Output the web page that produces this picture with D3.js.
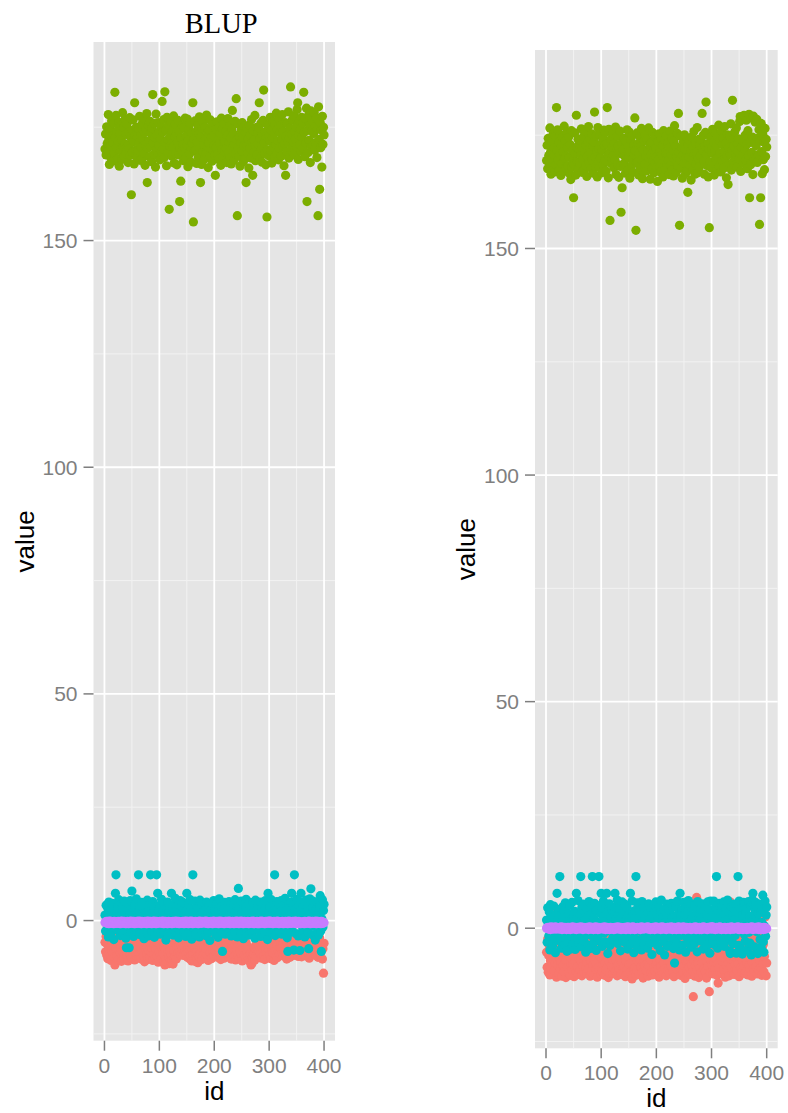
<!DOCTYPE html>
<html>
<head>
<meta charset="utf-8">
<script src="https://cdn.jsdelivr.net/npm/d3@7"></script>
<style>
  body { margin: 0; background: #fff; }
  svg { display: block; }
</style>
</head>
<body>
<svg id="chart" width="788" height="1113"></svg>
<script>
// axis ticks
const xTicks = [0, 100, 200, 300, 400];
const xMinor = [50, 150, 250, 350];
const yTicks = [0, 50, 100, 150];
const yMinor = [-25, 25, 75, 125, 175];

// id 1..400, one value per id in every series below
const ids = d3.range(1, 401);

// ---- left panel (BLUP) ----
const leftRed = [
  -4.8,-6.9,-3.5,-7.6,-5.2,-8.4,-4.1,-6.3,-7.9,-3.8,-5.9,-8.8,-4.5,-6.7,-3.2,-7.3,-5.5,-8.1,-9.8,-4.3,
  -6.1,-3.9,-7.8,-5.0,-8.6,-4.4,-6.5,-3.3,-7.1,-5.7,-9.0,-4.0,-6.8,-3.6,-8.3,-5.3,-7.4,-4.7,-6.0,-3.4,
  -7.7,-5.1,-8.9,-4.2,-6.4,-3.7,-7.5,-5.8,-8.2,-4.6,-6.6,-3.1,-7.0,-5.4,-8.7,-4.9,-6.2,-3.5,-7.9,-5.6,
  -4.4,-8.0,-6.0,-3.8,-7.2,-5.0,-8.5,-4.1,-6.8,-3.4,-7.7,-5.5,-9.1,-4.8,-6.3,-3.0,-7.4,-5.9,-8.6,-4.5,
  -6.7,-3.6,-8.1,-5.2,-7.0,-4.3,-6.1,-8.8,-3.9,-7.5,-5.6,-4.0,-8.4,-6.4,-3.3,-7.8,-5.0,-9.2,-4.7,-6.9,
  -5.3,-7.6,-4.2,-8.3,-6.2,-3.7,-7.3,-5.7,-8.9,-9.8,-6.5,-8.6,-4.9,-9.3,-7.1,-5.4,-8.0,-9.5,-6.8,-8.7,
  -9.2,-7.4,-8.8,-5.9,-9.6,-6.6,-8.2,-4.6,-7.9,-5.1,-8.5,-6.0,-4.4,-7.2,-5.8,-3.9,-6.9,-4.8,-7.6,-5.5,
  -3.6,-6.3,-4.9,-7.7,-5.6,-3.2,-6.8,-4.5,-7.3,-5.0,-8.1,-6.1,-7.0,-5.3,-8.4,-6.6,-7.8,-4.7,-8.9,-6.4,
  -7.5,-5.9,-8.7,-6.2,-9.0,-7.1,-5.4,-8.3,-6.8,-9.3,-7.7,-4.8,-8.0,-6.5,-7.2,-5.1,-8.6,-6.0,-7.9,-4.3,
  -5.7,-7.3,-4.6,-8.2,-6.3,-3.8,-7.6,-5.2,-8.8,-4.9,-6.7,-3.5,-7.0,-5.5,-8.4,-4.1,-6.6,-3.3,-7.8,-5.0,
  -4.0,-6.9,-3.4,-7.4,-5.8,-8.1,-4.4,-6.2,-3.7,-7.1,-5.3,-8.6,-4.7,-6.4,-3.1,-7.7,-5.6,-8.3,-4.2,-6.0,
  -7.2,-4.5,-6.6,-3.9,-8.0,-5.1,-7.5,-4.3,-6.8,-3.6,-8.5,-5.7,-7.0,-4.8,-6.1,-3.4,-7.9,-5.4,-8.7,-4.6,
  -6.3,-3.8,-7.8,-5.0,-8.4,-4.1,-6.7,-3.2,-7.3,-5.5,-8.9,-4.4,-6.0,-3.6,-7.6,-5.2,-8.2,-4.9,-6.5,-7.1,
  -8.0,-5.8,-8.8,-6.4,-9.1,-7.3,-9.8,-8.5,-9.4,-6.9,-8.1,-7.5,-5.9,-8.7,-6.2,-7.8,-4.7,-6.6,-5.1,-7.0,
  -4.3,-6.8,-3.7,-7.4,-5.3,-8.3,-4.6,-6.1,-3.5,-7.7,-5.7,-8.6,-4.0,-6.5,-3.3,-7.2,-5.0,-8.0,-4.8,-6.3,
  -7.6,-5.2,-8.4,-4.5,-6.9,-3.8,-7.1,-5.6,-8.8,-4.2,-6.4,-3.4,-7.9,-5.4,-8.2,-4.7,-6.7,-3.9,-7.3,-5.9,
  -4.6,-6.2,-3.6,-7.0,-5.1,-7.8,-4.1,-6.6,-3.2,-7.5,-5.5,-8.5,-4.4,-6.0,-3.8,-7.3,-5.8,-8.1,-4.9,-6.8,
  -7.4,-5.0,-6.3,-4.3,-7.7,-5.6,-6.9,-3.7,-7.2,-5.3,-6.5,-4.0,-7.9,-5.9,-6.7,-4.6,-7.0,-5.2,-8.0,-4.8,
  -6.1,-3.5,-7.5,-5.4,-6.6,-4.2,-7.8,-5.7,-6.4,-3.9,-7.1,-5.0,-8.3,-4.5,-6.8,-5.5,-7.6,-4.1,-6.2,-5.8,
  -7.3,-4.7,-6.0,-3.6,-7.7,-5.1,-6.9,-4.4,-8.1,-5.6,-6.5,-3.8,-7.4,-5.3,-6.7,-4.9,-8.5,-6.2,-11.6,-5.0
];
const leftGreen = [
  170.2,173.5,168.9,175.1,171.4,169.7,177.8,172.3,166.8,174.6,170.9,168.2,176.4,173.0,171.7,167.5,175.9,169.3,182.7,172.8,
  177.6,170.5,174.2,168.0,171.9,176.1,166.4,173.7,169.8,175.4,172.1,167.9,178.2,170.7,174.9,168.6,171.3,176.8,173.4,169.1,
  175.7,171.0,167.2,173.9,170.3,177.1,168.8,172.6,160.1,174.3,169.5,176.6,171.8,166.9,180.4,173.2,170.0,175.0,168.4,172.9,
  169.9,174.8,171.5,177.4,167.7,173.1,170.6,175.6,168.1,172.4,176.9,169.2,173.8,166.6,171.2,174.5,178.0,162.8,170.4,175.3,
  172.0,168.5,176.3,170.8,173.6,167.4,174.7,182.2,171.6,169.0,175.8,172.7,166.2,177.9,170.1,173.3,168.7,176.0,171.1,174.0,
  167.8,172.5,175.2,169.6,180.7,173.9,170.2,176.7,168.3,182.8,171.7,174.4,166.5,177.2,172.2,169.4,175.5,156.9,170.9,173.0,
  176.2,171.4,168.6,174.1,170.7,177.5,167.1,172.8,175.7,169.3,173.5,166.7,171.9,176.5,168.9,174.2,158.6,170.3,163.1,172.6,
  169.7,175.3,171.2,167.6,174.9,170.5,177.0,168.2,173.2,171.0,176.8,166.3,172.1,174.6,169.1,175.9,170.6,167.3,173.7,171.5,
  180.4,154.1,172.4,169.8,176.4,170.0,174.0,167.0,171.8,175.4,168.4,173.4,177.3,170.4,162.8,172.9,166.8,174.7,169.5,176.1,
  171.3,168.0,175.0,172.5,169.2,177.7,170.8,173.8,166.1,171.6,174.3,168.7,176.6,170.2,172.7,167.5,175.6,169.9,173.1,171.0,
  168.8,164.4,174.5,170.6,176.2,169.0,172.3,167.9,175.1,171.4,173.6,166.6,177.0,170.1,174.8,168.5,172.0,175.8,169.6,171.9,
  174.1,170.3,167.2,173.2,176.9,169.4,171.7,175.3,168.3,172.6,166.9,174.6,178.7,170.7,173.5,167.7,171.2,176.3,169.1,181.3,
  172.2,155.5,170.5,175.7,168.6,173.0,166.4,171.5,174.4,169.7,176.0,172.8,167.4,170.9,175.2,168.1,173.9,162.8,171.1,174.7,
  169.3,172.4,166.0,175.5,170.4,173.3,168.2,176.7,171.8,164.4,174.2,169.5,172.1,177.6,167.6,170.8,175.0,168.9,173.7,171.3,
  174.9,180.4,168.0,172.5,175.9,170.2,167.3,173.4,176.5,183.2,171.6,169.2,174.0,166.7,172.9,155.2,170.0,175.4,168.7,173.1,
  171.9,177.2,169.8,174.3,167.1,172.7,176.2,170.6,173.6,168.4,175.6,171.0,178.1,169.0,174.5,172.0,167.8,176.8,170.3,173.8,
  175.3,168.6,172.2,177.8,170.9,174.1,166.5,171.4,176.0,164.4,173.0,169.6,175.8,171.7,178.4,168.2,172.6,174.8,183.9,170.1,
  173.5,176.6,169.3,171.8,177.5,168.9,174.0,172.4,175.1,170.7,178.9,180.4,167.9,173.2,176.4,171.1,174.6,169.7,177.2,172.8,
  175.9,170.4,182.7,173.9,168.5,176.9,171.5,179.2,158.6,174.3,169.4,177.7,172.1,175.5,167.2,178.6,170.8,174.2,176.3,171.0,
  173.6,178.3,169.9,175.2,171.6,177.1,168.3,174.7,155.5,179.5,172.3,161.3,176.1,170.5,174.4,166.2,177.4,171.2,175.0,173.3
];
const leftCyan = [
  1.2,-2.3,3.4,0.5,-1.1,2.7,-3.6,4.1,0.0,-0.8,2.1,-2.9,1.7,3.8,-1.6,0.9,-4.2,2.4,-0.4,6.0,
  10.1,1.5,-2.0,3.1,0.3,4.6,-1.4,2.2,-3.3,1.0,3.6,-0.7,2.9,-2.6,0.7,4.3,-1.9,1.9,-3.9,-6.0,
  2.5,-0.2,3.9,-1.3,-6.0,1.4,4.4,-2.7,0.6,6.5,-0.9,2.8,-3.5,1.1,3.3,-1.8,0.2,4.8,-2.4,1.6,
  -0.6,10.1,2.0,-3.1,3.5,0.8,-1.5,4.0,-2.2,1.3,2.6,-4.0,0.4,3.2,-1.0,1.8,-2.8,4.5,0.1,-3.4,
  2.3,-1.2,3.7,10.1,0.9,-2.5,1.6,4.2,-0.3,2.9,-3.7,1.1,3.0,-1.7,10.1,0.5,6.0,-2.1,2.4,-0.5,
  3.4,-3.0,1.2,4.7,-0.8,2.0,-2.3,0.7,3.9,-1.4,1.5,-4.3,2.7,0.0,4.1,-2.9,1.9,-0.6,3.1,-1.9,
  0.8,6.0,-1.0,2.6,-3.2,1.4,3.6,-0.4,4.9,-2.6,0.3,2.2,-1.6,3.3,-3.8,1.7,0.5,4.4,-2.0,1.0,
  -0.9,2.9,4.0,-2.4,1.3,-0.1,3.5,-3.5,2.1,6.0,-1.3,0.6,3.8,-2.7,1.8,4.6,-0.7,2.5,-4.1,0.4,
  10.1,-1.8,2.3,0.9,4.3,-3.1,1.6,-0.5,3.0,-2.2,2.8,0.1,-3.6,4.5,1.2,-1.2,3.4,-2.8,0.7,2.0,
  -1.5,3.7,0.2,-3.3,2.6,4.1,-0.9,1.5,-2.5,3.2,0.6,-4.4,2.2,1.0,-1.1,3.9,-2.0,0.8,4.4,-0.3,
  2.4,-2.9,1.1,3.6,-0.6,0.4,-3.7,2.7,4.8,-1.6,1.8,-0.2,3.1,-2.3,-6.8,0.9,2.5,-1.0,4.0,-3.0,
  1.3,3.3,-1.4,0.0,2.9,-2.7,4.2,1.6,-0.8,3.5,-3.4,2.0,0.5,-1.9,3.8,1.1,-2.4,4.6,0.3,-0.9,
  2.6,-3.6,1.9,7.1,-1.2,3.0,0.7,-2.8,4.3,1.4,-0.4,2.3,-4.0,3.4,0.1,-1.7,2.8,4.7,-2.1,1.0,
  -0.5,3.6,-3.2,1.7,4.0,-1.3,2.1,0.6,-2.6,3.9,1.2,-0.1,2.7,-3.9,4.5,0.9,-1.8,2.4,-0.7,3.2,
  1.5,-2.2,4.1,0.2,-3.5,2.9,1.0,-1.1,3.7,-0.3,2.2,-2.9,4.4,0.8,-1.5,3.1,-4.2,6.0,1.8,-0.6,
  3.0,-1.9,0.5,4.6,-2.7,1.3,3.5,-0.8,2.4,10.1,-3.3,1.9,0.1,4.2,-1.4,2.6,-2.4,3.8,0.7,-0.2,
  2.0,4.4,-3.0,1.1,-0.9,3.3,0.4,-2.0,4.9,1.6,-1.6,2.8,-3.8,-6.8,0.6,3.6,-0.5,2.1,-2.6,4.0,
  6.0,1.4,-1.2,3.9,-6.5,10.1,0.3,2.5,-2.9,4.7,-0.4,1.7,-3.4,3.2,0.9,-6.6,2.2,6.0,-1.0,4.1,
  -2.2,2.7,0.0,3.4,-3.6,1.5,4.5,-0.7,2.0,-2.5,3.7,-6.2,1.2,4.8,-1.3,7.0,0.8,-3.1,2.9,4.3,
  1.9,-0.6,3.5,-4.3,2.4,0.6,4.0,-1.9,2.8,-3.2,1.0,3.1,5.5,-2.3,-6.8,0.4,4.6,-1.4,2.2,3.6
];
const leftPurple = [
  -0.4,-0.3,-0.5,-0.2,-0.6,-0.4,-0.3,-0.7,-0.1,-0.5,-0.4,-0.2,-0.6,-0.3,-0.5,-0.4,-0.7,-0.2,-0.4,-0.6,
  -0.3,-0.5,-0.4,-0.6,-0.2,-0.4,-0.5,-0.3,-0.7,-0.4,-0.1,-0.5,-0.3,-0.6,-0.4,-0.2,-0.5,-0.4,-0.7,-0.3,
  -0.5,-0.2,-0.4,-0.7,-0.3,-0.6,-0.4,-0.1,-0.5,-0.3,-0.6,-0.4,-0.2,-0.5,-0.7,-0.4,-0.3,-0.6,-0.2,-0.4,
  -0.6,-0.4,-0.1,-0.5,-0.3,-0.4,-0.7,-0.2,-0.5,-0.4,-0.3,-0.6,-0.4,-0.2,-0.5,-0.3,-0.7,-0.4,-0.1,-0.5,
  -0.3,-0.6,-0.4,-0.2,-0.5,-0.7,-0.3,-0.4,-0.6,-0.1,-0.4,-0.5,-0.3,-0.7,-0.2,-0.4,-0.6,-0.3,-0.5,-0.4,
  -0.2,-0.4,-0.6,-0.3,-0.5,-0.1,-0.4,-0.7,-0.3,-0.5,-0.2,-0.6,-0.4,-0.3,-0.7,-0.5,-0.2,-0.4,-0.6,-0.3,
  -0.5,-0.3,-0.7,-0.4,-0.2,-0.6,-0.5,-0.3,-0.4,-0.1,-0.6,-0.3,-0.5,-0.4,-0.2,-0.7,-0.4,-0.5,-0.3,-0.6,
  -0.4,-0.6,-0.2,-0.5,-0.7,-0.3,-0.4,-0.1,-0.6,-0.4,-0.5,-0.2,-0.7,-0.4,-0.3,-0.5,-0.1,-0.6,-0.4,-0.2,
  -0.7,-0.4,-0.3,-0.6,-0.4,-0.2,-0.5,-0.4,-0.3,-0.6,-0.7,-0.4,-0.1,-0.5,-0.3,-0.4,-0.6,-0.2,-0.5,-0.4,
  -0.3,-0.5,-0.4,-0.1,-0.6,-0.4,-0.2,-0.5,-0.7,-0.3,-0.4,-0.6,-0.5,-0.2,-0.4,-0.3,-0.7,-0.5,-0.1,-0.4,
  -0.5,-0.4,-0.6,-0.3,-0.2,-0.5,-0.4,-0.7,-0.3,-0.1,-0.4,-0.6,-0.5,-0.2,-0.4,-0.3,-0.6,-0.7,-0.4,-0.2,
  -0.4,-0.2,-0.5,-0.6,-0.3,-0.4,-0.1,-0.5,-0.7,-0.4,-0.3,-0.6,-0.2,-0.4,-0.5,-0.7,-0.3,-0.4,-0.6,-0.1,
  -0.6,-0.3,-0.4,-0.2,-0.7,-0.5,-0.4,-0.3,-0.1,-0.6,-0.5,-0.4,-0.7,-0.3,-0.2,-0.4,-0.5,-0.6,-0.3,-0.4,
  -0.2,-0.5,-0.7,-0.4,-0.3,-0.6,-0.2,-0.4,-0.5,-0.3,-0.1,-0.7,-0.4,-0.6,-0.3,-0.5,-0.4,-0.2,-0.7,-0.5,
  -0.4,-0.7,-0.3,-0.5,-0.1,-0.4,-0.6,-0.2,-0.4,-0.5,-0.3,-0.7,-0.4,-0.2,-0.6,-0.4,-0.3,-0.5,-0.1,-0.6,
  -0.5,-0.1,-0.4,-0.6,-0.4,-0.3,-0.7,-0.5,-0.2,-0.4,-0.6,-0.3,-0.5,-0.4,-0.1,-0.6,-0.4,-0.7,-0.3,-0.5,
  -0.3,-0.6,-0.5,-0.2,-0.4,-0.7,-0.3,-0.4,-0.6,-0.2,-0.5,-0.4,-0.3,-0.7,-0.4,-0.1,-0.5,-0.3,-0.6,-0.4,
  -0.6,-0.4,-0.2,-0.5,-0.3,-0.4,-0.6,-0.1,-0.5,-0.7,-0.4,-0.3,-0.5,-0.2,-0.6,-0.4,-0.7,-0.3,-0.4,-0.5,
  -0.4,-0.3,-0.6,-0.7,-0.2,-0.5,-0.4,-0.3,-0.6,-0.4,-0.2,-0.5,-0.1,-0.4,-0.7,-0.3,-0.5,-0.6,-0.2,-0.4,
  -0.5,-0.6,-0.3,-0.4,-0.1,-0.7,-0.4,-0.5,-0.2,-0.6,-0.3,-0.4,-0.5,-0.7,-0.2,-0.4,-0.3,-0.6,-0.4,-0.5
];

// ---- right panel ----
const rightRed = [
  -5.3,-8.6,-2.4,-9.7,-6.1,-4.0,-10.3,-7.2,-1.5,-8.9,4.5,-6.6,-3.1,3.2,-9.4,-5.8,-7.7,-2.9,-10.8,-6.9,
  -8.1,-4.7,-10.1,-6.4,-2.0,-9.0,-7.5,-3.6,-10.6,-5.5,-8.3,-1.2,-9.6,-6.8,-4.3,-10.9,-7.0,-3.9,-8.7,-5.1,
  -9.9,-6.2,-3.3,-10.4,-7.8,-4.9,-9.2,-2.6,-8.0,-6.0,-10.7,-4.4,-7.4,-1.8,-9.5,-5.6,-8.5,-3.0,-10.2,-6.7,
  -4.6,-9.3,-7.1,-2.2,-10.5,-5.9,-8.4,-3.8,-9.8,-6.3,-1.0,-8.8,-5.0,-10.0,-7.6,-3.4,-9.1,-6.5,-4.1,-10.6,
  -7.3,-2.8,-9.7,-5.4,-8.2,-4.2,-10.3,-6.9,-1.9,-9.0,-7.9,-3.5,-10.8,-5.7,-8.6,-2.5,-9.4,-6.1,-4.8,-10.1,
  -6.6,-9.5,-3.7,-8.0,-5.2,-10.4,-7.7,-2.3,-9.2,-4.5,-8.7,-6.0,-10.9,-3.2,-7.4,-9.9,-5.5,-1.4,-8.3,-6.8,
  -10.0,-4.0,-8.9,-6.2,-2.7,-9.6,-7.0,-3.9,-10.5,-5.3,-8.1,-1.7,-9.3,-6.7,-4.6,-10.2,-7.5,-3.1,-8.5,-5.8,
  -3.6,-8.4,-5.9,-10.7,-7.2,-2.1,-9.1,-4.8,-10.0,-6.4,-8.0,-3.3,-9.7,-5.1,-7.8,-11.2,-6.0,-2.6,-9.0,-4.3,
  -8.8,-6.5,-10.4,-3.5,-9.2,-5.6,-7.3,-1.6,-10.1,-6.9,-4.1,-8.6,-2.9,-9.8,-5.4,-11.0,-7.6,-3.7,-8.3,-6.1,
  -5.0,-9.4,-2.0,-7.9,-10.6,-4.4,-8.2,-6.3,-3.0,-9.9,-7.1,-1.3,-10.3,-5.7,-8.7,-3.8,-9.5,-6.6,-2.4,-8.0,
  -7.4,-3.2,-9.0,-5.5,-10.8,-6.7,-2.2,-8.5,-4.7,-9.7,-6.0,-1.9,-10.2,-7.7,-4.0,-8.9,-5.2,-10.5,-3.6,-7.0,
  -9.3,-5.8,-2.7,-10.0,-7.3,-4.2,-8.4,-6.1,-1.1,-9.6,-5.3,-10.7,-3.4,-8.1,-6.8,-2.5,5.7,-9.1,-4.9,-7.6,
  -3.9,-8.7,-6.2,-10.4,-2.1,-7.9,-5.0,-9.8,-4.5,-8.3,-6.5,-11.1,-3.0,-7.2,-9.4,-1.8,-6.9,-10.1,-4.3,-8.6,
  -6.3,-10.2,-3.5,-8.0,-5.6,-9.5,-15.1,-7.0,-4.0,-10.6,-8.2,-2.8,6.8,-9.3,-5.9,-7.8,-10.9,-3.3,-8.8,-6.6,
  -9.8,-4.6,-7.5,-2.3,-10.3,-6.0,-8.9,-3.7,-9.6,-5.4,-11.0,-7.3,-1.6,-8.4,-6.4,-14.0,-4.2,-9.9,-7.0,-2.9,
  -8.1,-5.7,-10.1,-3.1,-7.6,-9.0,-4.9,-6.8,-2.0,-10.4,-7.9,-12.1,-5.3,-8.7,-3.6,-9.7,-6.2,-1.5,-10.0,-7.4,
  -4.4,-9.1,-6.7,-2.6,-10.8,-5.1,-8.3,-3.9,-9.4,-6.0,-7.7,-10.5,5.9,-4.8,-8.6,-6.9,-2.2,-9.9,-5.5,-7.2,
  -10.2,-3.4,-8.0,-6.6,-1.9,-9.3,-5.8,-7.8,-4.1,-10.7,-6.3,-2.9,-8.8,-4.7,-9.6,-7.1,-3.0,-8.4,-5.4,-10.0,
  -6.1,-9.7,-3.8,-7.4,-2.4,-10.3,-5.9,-8.2,-4.4,-9.0,-6.8,-1.7,-10.6,-7.6,-3.5,-8.9,-5.0,-9.5,-2.7,-7.3,
  -8.5,-4.9,-10.1,-6.4,-3.2,-9.2,-7.0,-2.1,-8.7,-5.6,-10.4,-4.3,-7.9,-3.6,-9.6,-6.2,2.4,4.8,-10.5,-7.7
];
const rightGreen = [
  169.4,172.8,167.6,174.3,170.5,168.9,176.6,171.2,166.4,173.7,169.8,167.3,175.2,172.1,170.6,166.9,174.8,168.5,181.1,171.7,
  176.2,169.6,173.4,167.2,170.8,175.1,166.1,172.6,168.7,174.5,171.3,167.0,177.0,169.9,173.8,167.8,170.4,175.7,172.3,168.2,
  174.6,170.1,166.5,172.9,165.2,176.0,168.0,171.6,169.3,161.2,168.6,175.5,170.9,166.2,179.4,172.4,169.1,174.1,167.5,171.9,
  168.8,173.9,170.7,176.4,166.8,172.2,169.7,174.7,167.4,171.4,175.8,168.3,172.7,165.9,170.3,173.6,176.9,169.0,171.8,174.2,
  171.1,167.7,175.3,169.5,172.5,166.6,173.5,180.1,170.2,168.1,174.9,171.5,165.8,176.7,169.2,172.0,167.9,175.0,170.0,173.1,
  166.7,171.7,174.4,168.4,176.1,172.8,169.4,175.6,167.1,173.0,181.1,170.6,165.6,176.3,171.2,156.2,174.0,168.8,170.1,172.3,
  175.4,170.5,167.8,173.2,169.6,176.8,166.3,172.1,174.8,168.5,172.6,165.7,171.0,175.9,168.1,158.0,173.3,163.4,170.8,171.9,
  168.7,174.3,170.3,166.6,173.7,169.8,176.2,167.3,172.4,170.0,175.7,165.5,171.3,173.9,168.2,174.9,169.7,166.8,172.8,170.7,
  178.8,171.6,154.0,168.9,175.5,169.1,173.1,166.2,170.9,174.6,167.6,172.5,176.5,169.5,165.4,171.8,167.0,173.8,168.6,175.1,
  170.4,167.1,174.1,171.5,168.3,176.6,169.9,172.9,165.3,170.6,173.4,167.7,175.6,169.3,171.7,166.7,174.7,168.9,172.2,170.1,
  167.9,164.8,173.6,169.6,175.3,168.0,171.4,166.9,174.2,170.5,172.7,165.8,176.0,169.2,173.9,167.6,171.1,174.9,168.7,171.0,
  173.2,169.4,166.3,172.3,175.9,168.4,170.8,174.4,167.4,171.7,166.0,173.7,177.1,169.7,172.6,166.8,170.3,175.4,168.2,179.8,
  171.3,155.1,169.6,174.8,167.7,172.1,165.5,170.6,173.5,168.8,175.1,171.9,166.5,170.0,174.3,167.2,162.4,172.9,170.2,173.8,
  168.4,171.5,165.1,174.6,169.5,172.4,167.3,175.8,170.9,166.4,173.3,168.6,171.2,176.7,166.7,169.9,174.1,168.0,172.8,170.4,
  174.0,171.8,179.8,171.6,175.0,169.3,166.4,172.5,175.6,182.3,170.7,168.3,173.1,165.8,172.0,154.6,169.1,174.5,167.8,172.2,
  171.0,176.3,168.9,173.4,166.2,171.8,175.3,169.7,172.7,167.5,174.7,170.1,177.2,168.1,173.6,171.1,166.9,175.9,169.4,172.9,
  174.4,167.7,171.3,176.9,170.0,173.2,165.6,170.5,175.1,164.1,172.1,168.7,174.9,170.8,177.5,167.3,171.7,182.7,173.9,169.2,
  172.6,175.7,168.4,170.9,176.6,168.0,173.1,171.5,174.2,169.8,178.0,179.1,167.0,172.3,178.6,170.2,173.7,168.8,179.4,171.9,
  175.0,169.5,178.3,173.0,167.6,176.0,170.6,179.6,161.2,173.4,168.5,178.8,171.2,174.6,166.3,179.2,169.9,173.3,177.9,170.1,
  172.7,178.5,169.0,174.3,170.7,176.2,155.3,173.8,161.2,177.6,171.4,166.5,175.2,169.6,173.5,167.4,176.5,170.3,174.1,172.4
];
const rightCyan = [
  1.8,-3.1,4.5,0.6,-1.7,3.6,-4.8,5.2,0.1,-1.2,2.8,-3.9,2.2,4.9,-2.3,1.1,-5.4,3.1,-0.6,7.7,
  2.0,-2.7,4.1,0.4,11.4,-1.9,2.9,-4.4,1.3,4.7,-1.0,3.8,-3.5,0.9,5.6,-2.5,2.5,-5.1,1.6,-3.3,
  3.3,-0.3,5.1,-1.8,-4.6,1.9,5.7,-3.6,0.8,2.6,-1.3,3.7,-4.7,1.5,7.7,-2.4,0.3,6.1,-3.2,2.1,
  -0.8,3.0,11.4,-4.1,4.6,1.0,-2.0,5.3,-2.9,1.7,3.4,-5.3,0.5,4.2,-1.4,2.4,-3.7,5.9,0.2,-4.5,
  3.0,-1.6,4.8,11.4,1.2,-3.3,2.1,5.5,-0.4,3.8,-4.9,1.4,4.0,-2.2,0.7,11.4,-2.8,5.0,3.2,7.7,
  4.5,-4.0,1.6,6.0,-1.1,2.7,-3.0,0.9,5.2,7.7,2.0,-5.6,3.6,0.0,5.4,-3.8,2.5,-0.8,4.1,-2.5,
  1.1,3.4,-1.3,3.5,7.7,1.9,4.7,-0.5,6.2,-3.4,0.4,2.9,-2.1,4.3,-5.0,2.3,0.7,5.8,-2.6,1.3,
  -1.2,3.8,5.3,-3.2,1.7,-0.1,4.6,-4.6,2.8,1.6,-1.7,0.8,7.7,-3.5,2.4,6.0,-0.9,3.3,-5.4,0.5,
  3.9,-2.4,11.4,1.2,5.6,-4.1,2.1,-0.6,4.0,-2.9,3.7,0.1,-4.8,5.9,1.6,-1.6,4.5,-3.7,0.9,2.6,
  -2.0,4.9,0.3,-4.4,3.4,5.4,-1.2,2.0,-3.3,4.2,0.8,-5.8,2.9,1.3,-1.5,5.1,-2.6,1.1,5.8,-0.4,
  3.2,-3.8,1.5,4.7,-0.8,0.5,-4.9,3.6,6.2,-2.1,2.4,-0.3,4.1,-3.0,-5.9,1.2,3.3,-1.3,5.3,-4.0,
  1.7,4.4,-1.8,0.0,3.8,-3.6,5.5,2.1,-1.1,4.6,-4.5,2.6,-7.7,-2.5,5.0,1.4,-3.2,6.0,0.4,-1.2,
  3.4,-4.8,7.7,2.5,-1.6,4.0,0.9,-3.7,5.7,1.8,-0.5,3.0,-5.3,4.5,0.1,-2.2,3.7,6.1,-2.8,1.3,
  -0.7,4.7,-4.2,2.2,5.3,-1.7,2.8,0.8,-3.4,5.1,1.6,-0.1,3.5,-5.2,5.9,1.2,-2.4,3.2,-0.9,4.2,
  2.0,-2.9,5.4,0.3,-4.6,3.8,1.3,-1.5,4.9,-0.4,2.9,-3.8,5.8,1.1,-2.0,4.1,-5.5,6.0,2.4,-0.8,
  4.0,-2.5,0.7,6.0,-3.6,1.7,4.6,-1.1,11.4,3.2,-4.4,2.5,0.1,5.5,-1.9,3.4,-3.2,5.0,0.9,-0.3,
  2.6,5.8,-4.0,1.5,-1.2,4.4,0.5,-2.7,6.2,2.1,-2.1,3.7,-5.0,-5.6,0.8,4.8,-0.7,2.8,-3.4,5.3,
  4.4,1.9,-1.6,5.1,-5.5,3.6,0.4,11.4,-3.8,6.0,-0.5,2.2,-4.5,4.2,1.2,-5.7,2.9,5.7,-1.3,5.4,
  -2.9,3.6,0.0,4.5,-4.8,2.0,5.9,-0.9,2.6,-3.3,4.9,-5.9,1.6,6.3,7.7,5.2,1.1,-4.1,3.8,5.7,
  2.5,-0.8,4.6,-5.6,3.2,0.8,5.3,-2.5,3.7,-4.2,1.3,4.1,7.3,-3.0,-5.3,0.5,6.0,-1.8,2.9,4.7
];
const rightPurple = [
  0.0,0.1,-0.1,0.2,-0.2,0.0,0.1,-0.3,0.3,-0.1,0.0,0.2,-0.2,0.1,-0.1,0.0,0.3,-0.2,0.1,-0.1,
  0.1,-0.1,0.0,-0.2,0.2,0.0,-0.1,0.3,-0.3,0.1,0.0,-0.2,0.1,0.2,-0.1,0.0,-0.3,0.1,0.2,-0.2,
  -0.1,0.2,0.0,-0.3,0.1,-0.2,0.0,0.3,-0.1,0.1,-0.2,0.0,0.2,-0.1,-0.3,0.1,0.0,0.2,-0.1,0.0,
  -0.2,0.0,0.3,-0.1,0.1,0.0,-0.3,0.2,-0.1,0.0,0.1,-0.2,0.0,0.2,-0.1,0.1,-0.3,0.0,0.3,-0.1,
  0.1,-0.2,0.0,0.2,-0.1,-0.3,0.1,0.0,-0.2,0.3,0.0,-0.1,0.1,-0.3,0.2,0.0,-0.2,0.1,-0.1,0.0,
  0.2,0.0,-0.2,0.1,-0.1,0.3,0.0,-0.3,0.1,-0.1,0.2,-0.2,0.0,0.1,-0.3,-0.1,0.2,0.0,-0.2,0.1,
  -0.1,0.1,-0.3,0.0,0.2,-0.2,-0.1,0.1,0.0,0.3,-0.2,0.1,-0.1,0.0,0.2,-0.3,0.0,-0.1,0.1,-0.2,
  0.0,-0.2,0.2,-0.1,-0.3,0.1,0.0,0.3,-0.2,0.0,-0.1,0.2,-0.3,0.0,0.1,-0.1,0.3,-0.2,0.0,0.2,
  -0.3,0.0,0.1,-0.2,0.0,0.2,-0.1,0.0,0.1,-0.2,-0.3,0.0,0.3,-0.1,0.1,0.0,-0.2,0.2,-0.1,0.0,
  0.1,-0.1,0.0,0.3,-0.2,0.0,0.2,-0.1,-0.3,0.1,0.0,-0.2,-0.1,0.2,0.0,0.1,-0.3,-0.1,0.3,0.0,
  -0.1,0.0,-0.2,0.1,0.2,-0.1,0.0,-0.3,0.1,0.3,0.0,-0.2,-0.1,0.2,0.0,0.1,-0.2,-0.3,0.0,0.2,
  0.0,0.2,-0.1,-0.2,0.1,0.0,0.3,-0.1,-0.3,0.0,0.1,-0.2,0.2,0.0,-0.1,-0.3,0.1,0.0,-0.2,0.3,
  -0.2,0.1,0.0,0.2,-0.3,-0.1,0.0,0.1,0.3,-0.2,-0.1,0.0,-0.3,0.1,0.2,0.0,-0.1,-0.2,0.1,0.0,
  0.2,-0.1,-0.3,0.0,0.1,-0.2,0.2,0.0,-0.1,0.1,0.3,-0.3,0.0,-0.2,0.1,-0.1,0.0,0.2,-0.3,-0.1,
  0.0,-0.3,0.1,-0.1,0.3,0.0,-0.2,0.2,0.0,-0.1,0.1,-0.3,0.0,0.2,-0.2,0.0,0.1,-0.1,0.3,-0.2,
  -0.1,0.3,0.0,-0.2,0.0,0.1,-0.3,-0.1,0.2,0.0,-0.2,0.1,-0.1,0.0,0.3,-0.2,0.0,-0.3,0.1,-0.1,
  0.1,-0.2,-0.1,0.2,0.0,-0.3,0.1,0.0,-0.2,0.2,-0.1,0.0,0.1,-0.3,0.0,0.3,-0.1,0.1,-0.2,0.0,
  -0.2,0.0,0.2,-0.1,0.1,0.0,-0.2,0.3,-0.1,-0.3,0.0,0.1,-0.1,0.2,-0.2,0.0,-0.3,0.1,0.0,-0.1,
  0.0,0.1,-0.2,-0.3,0.2,-0.1,0.0,0.1,-0.2,0.0,0.2,-0.1,0.3,0.0,-0.3,0.1,-0.1,-0.2,0.2,0.0,
  -0.1,-0.2,0.1,0.0,0.3,-0.3,0.0,-0.1,0.2,-0.2,0.1,0.0,-0.1,-0.3,0.2,0.0,0.1,-0.2,0.0,-0.1
];

const colors = ["#F8766D", "#7CAE00", "#00BFC4", "#C77CFF"];

const panels = [
  { title: "BLUP", left: 93.5, right: 335, top: 42, bottom: 1040.7,
    series: [leftRed, leftGreen, leftCyan, leftPurple] },
  { title: null, left: 535, right: 777.7, top: 50, bottom: 1048.3,
    series: [rightRed, rightGreen, rightCyan, rightPurple] }
];

const sans = "'Liberation Sans', Arial, Helvetica, sans-serif";
const svg = d3.select("#chart");

const drawPanel = (p) => {
  const x = d3.scaleLinear().domain([-19.95, 419.95]).range([p.left, p.right]);
  const y = d3.scaleLinear().domain([-26.5, 193.8]).range([p.bottom, p.top]);
  const g = svg.append("g");

  // panel background
  g.append("rect")
    .attr("x", p.left)
    .attr("y", p.top)
    .attr("width", p.right - p.left)
    .attr("height", p.bottom - p.top)
    .attr("fill", "#E5E5E5");

  // minor grid
  g.selectAll(".vminor").data(xMinor).enter().append("line")
    .attr("x1", d => x(d)).attr("x2", d => x(d))
    .attr("y1", p.top).attr("y2", p.bottom)
    .attr("stroke", "#F2F2F2").attr("stroke-width", 1);
  g.selectAll(".hminor").data(yMinor).enter().append("line")
    .attr("x1", p.left).attr("x2", p.right)
    .attr("y1", d => y(d)).attr("y2", d => y(d))
    .attr("stroke", "#F2F2F2").attr("stroke-width", 1);

  // major grid
  g.selectAll(".vmajor").data(xTicks).enter().append("line")
    .attr("x1", d => x(d)).attr("x2", d => x(d))
    .attr("y1", p.top).attr("y2", p.bottom)
    .attr("stroke", "#FFFFFF").attr("stroke-width", 1.8);
  g.selectAll(".hmajor").data(yTicks).enter().append("line")
    .attr("x1", p.left).attr("x2", p.right)
    .attr("y1", d => y(d)).attr("y2", d => y(d))
    .attr("stroke", "#FFFFFF").attr("stroke-width", 1.8);

  // points, in series order
  p.series.forEach((values, k) => {
    g.append("g").selectAll("circle")
      .data(values)
      .enter()
      .append("circle")
      .attr("cx", (d, i) => x(ids[i]))
      .attr("cy", d => y(d))
      .attr("r", 4.6)
      .attr("fill", colors[k]);
  });

  // y axis
  g.selectAll(".ytick").data(yTicks).enter().append("line")
    .attr("x1", p.left - 10).attr("x2", p.left)
    .attr("y1", d => y(d)).attr("y2", d => y(d))
    .attr("stroke", "#7F7F7F").attr("stroke-width", 1.5);
  g.selectAll(".ylab").data(yTicks).enter().append("text")
    .attr("x", p.left - 16)
    .attr("y", d => y(d))
    .attr("dy", "0.36em")
    .attr("text-anchor", "end")
    .attr("font-family", sans)
    .attr("font-size", 21)
    .attr("fill", "#7F7F7F")
    .text(d => d);

  // x axis
  g.selectAll(".xtick").data(xTicks).enter().append("line")
    .attr("x1", d => x(d)).attr("x2", d => x(d))
    .attr("y1", p.bottom).attr("y2", p.bottom + 10)
    .attr("stroke", "#7F7F7F").attr("stroke-width", 1.5);
  g.selectAll(".xlab").data(xTicks).enter().append("text")
    .attr("x", d => x(d))
    .attr("y", p.bottom + 32)
    .attr("text-anchor", "middle")
    .attr("font-family", sans)
    .attr("font-size", 21)
    .attr("fill", "#7F7F7F")
    .text(d => d);

  // axis titles
  g.append("text")
    .attr("x", (p.left + p.right) / 2)
    .attr("y", p.bottom + 59)
    .attr("text-anchor", "middle")
    .attr("font-family", sans)
    .attr("font-size", 26)
    .attr("fill", "#000")
    .text("id");
  g.append("text")
    .attr("transform", `translate(${p.left - 60},${(p.top + p.bottom) / 2}) rotate(-90)`)
    .attr("text-anchor", "middle")
    .attr("font-family", sans)
    .attr("font-size", 26)
    .attr("fill", "#000")
    .text("value");

  if (p.title) {
    svg.append("text")
      .attr("x", (p.left + p.right) / 2 + 7)
      .attr("y", 32.5)
      .attr("text-anchor", "middle")
      .attr("font-family", "'Liberation Serif', 'Times New Roman', serif")
      .attr("font-size", 28.5)
      .attr("fill", "#000")
      .text(p.title);
  }
};

panels.forEach(drawPanel);
</script>
</body>
</html>
